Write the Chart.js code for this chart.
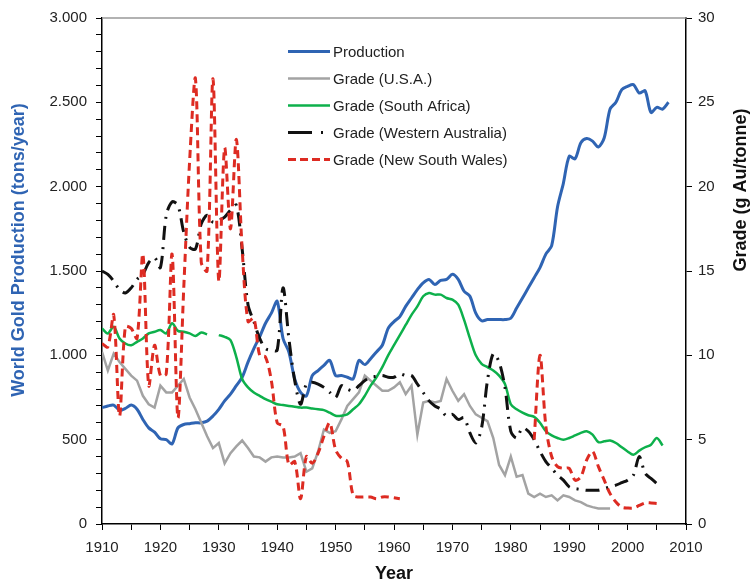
<!DOCTYPE html>
<html>
<head>
<meta charset="utf-8">
<script src="https://cdn.jsdelivr.net/npm/chart.js@4.4.0/dist/chart.umd.min.js"></script>
<style>
body { margin: 0; background: #fff; }
canvas { display: block; }
</style>
</head>
<body>
<canvas id="myChart" width="752" height="586"></canvas>
<script>
// values, one per year from the start year

var prodStart = 1910;
var production = [690, 700, 705, 675, 685, 705, 680, 620, 570, 545,
	505, 500, 475, 570, 590, 595, 600, 600, 610, 640,
	680, 730, 770, 820, 870, 960, 1040, 1110, 1190, 1250,
	1320, 1100, 1020, 860, 780, 760, 880, 910, 940, 970,
	880, 880, 870, 860, 970, 945, 980, 1020, 1060, 1160,
	1200, 1230, 1290, 1340, 1390, 1430, 1450, 1420, 1445, 1450,
	1480, 1450, 1380, 1350, 1250, 1205, 1212, 1212, 1212, 1212,
	1220, 1280, 1340, 1400, 1460, 1520, 1600, 1650, 1880, 2020,
	2180, 2165, 2260, 2285, 2270, 2235, 2290, 2460, 2500, 2575,
	2595, 2605, 2555, 2568, 2440, 2470, 2460, 2500];

var usaStart = 1910;
var gradeUSA = [10.2, 9.1, 10.1, 9.6, 9.2, 8.8, 8.5, 7.6, 7.1, 6.9,
	8.2, 7.8, 7.8, 8.2, 8.6, 7.5, 6.8, 6.0, 5.2, 4.5,
	4.8, 3.6, 4.2, 4.6, 4.95, 4.5, 4.0, 3.95, 3.7, 3.95,
	4.0, 3.95, 3.95, 4.0, 4.2, 3.1, 3.3, 4.3, 5.6, 5.4,
	5.5, 6.2, 7.0, 7.4, 7.8, 8.8, 8.5, 8.2, 7.9, 7.9,
	8.1, 8.4, 7.7, 8.2, 5.3, 7.2, 7.3, 7.2, 7.3, 8.6,
	7.9, 7.3, 7.7, 7.0, 6.5, 6.3, 6.1, 5.1, 3.5, 2.9,
	4.0, 2.8, 2.9, 1.8, 1.6, 1.8, 1.6, 1.7, 1.4, 1.7,
	1.6, 1.4, 1.3, 1.1, 1.0, 0.92, 0.92, 0.92];

var saStart = 1910;
var gradeSA = [11.6, 11.3, 11.7, 11.0, 10.7, 10.6, 10.8, 11.0, 11.3, 11.4,
	11.5, 11.3, 11.9, 11.45, 11.4, 11.3, 11.15, 11.35, 11.25, null,
	11.2, 11.1, 10.9, 9.9, 8.6, 8.1, 7.8, 7.6, 7.4, 7.25,
	7.1, 7.05, 7.0, 6.95, 6.9, 6.9, 6.85, 6.8, 6.75, 6.6,
	6.42, 6.42, 6.5, 6.8, 7.1, 7.6, 8.2, 8.7, 9.3, 10.0,
	10.6, 11.2, 11.8, 12.4, 12.9, 13.5, 13.7, 13.6, 13.6, 13.4,
	13.3, 13.0, 12.1, 11.0, 10.0, 9.5, 9.3, 9.1, 8.8, 8.3,
	7.1, 6.8, 6.6, 6.45, 6.35, 6.0, 5.5, 5.25, 5.1, 5.0,
	5.1, 5.25, 5.4, 5.5, 5.3, 4.85, 4.9, 4.95, 4.8, 4.55,
	4.3, 4.1, 4.35, 4.55, 4.7, 5.1, 4.65];

var waStart = 1910;
var gradeWA = [15.0, 14.8, 14.4, 13.9, 13.7, 14.0, 14.5, 14.8, 15.5, 15.8,
	15.2, 18.3, 19.1, 18.9, 17.3, 16.4, 16.3, 17.8, 18.3, 17.9,
	18.0, 18.2, 18.6, 18.9, 16.3, 13.0, 12.0, 11.0, 10.4, 10.3,
	10.3, 14.0, 11.0, 8.5, 7.1, 8.3, 8.4, 8.3, 8.1, 7.8,
	7.5, 8.2, 8.0, 7.9, 8.2, 8.5, 8.7, 8.75, 8.8, 8.7,
	8.7, 8.9, 8.8, 8.8, 8.3, 7.8, 7.3, 7.0, 6.8, 6.4,
	6.5, 6.2, 6.3, 5.4, 4.8, 5.7, 8.5, 10.1, 9.6, 8.1,
	5.5, 5.1, 5.7, 5.5, 5.0, 4.3, 3.7, 3.3, 2.9, 2.6,
	2.2, 2.1, 2.05, 2.0, 2.0, 2.0, 2.1, 2.2, 2.3, 2.45,
	2.6, 2.9, 4.0, 3.0, 2.7, 2.4];

var nswStartA = 1910;
var gradeNSWa = [10.7, 10.5, 12.4, 6.4, 11.7, 11.6, 11.0, 16.0, 8.2, 10.6,
	8.8, 8.9, 16.0, 6.3, 14.0, 21.5, 26.4, 15.5, 15.0, 26.4,
	14.4, 22.3, 17.5, 22.8, 16.3, 12.0, 12.2, 10.0, 9.9, 8.5,
	6.0, 5.8, 3.5, 3.7, 1.5, 4.0, 3.6, 4.2, 5.2, 6.0,
	4.4, 3.9, 3.7, 1.7, 1.6, 1.6, 1.6, 1.5, 1.6, 1.6,
	1.55, 1.5];
var nswStartB = 1984;
var gradeNSWb = [5.0, 10.0, 5.8, 4.0, 3.4, 3.3, 3.3, 2.6, 2.8, 3.8,
	4.3, 3.4, 2.6, 1.8, 1.3, 1.0, 0.95, 0.95, 1.1, 1.25,
	1.25, 1.22];

var xTickLabels = ['1910', '1920', '1930', '1940', '1950', '1960', '1970', '1980', '1990', '2000', '2010'];

function toPoints(start, values) {
	return values.map(function (v, i) {
		return { x: start + i, y: v };
	});
}

var nswPoints = toPoints(nswStartA, gradeNSWa)
	.concat([{ x: 1970, y: null }])
	.concat(toPoints(nswStartB, gradeNSWb));

var FONT = '"Liberation Sans", Arial, Helvetica, sans-serif';
var BLUE = '#2f64b3';

// legend drawn inside the plot, like the original
var insideLegend = {
	id: 'insideLegend',
	afterDraw: function (chart) {
		var ctx = chart.ctx;
		var rowY = 51.5;
		ctx.save();
		ctx.font = '15px ' + FONT;
		ctx.textBaseline = 'middle';
		chart.data.datasets.forEach(function (ds) {
			ctx.beginPath();
			ctx.strokeStyle = ds.borderColor;
			ctx.lineWidth = ds.borderWidth;
			ctx.setLineDash(ds.legendDash || []);
			ctx.moveTo(288, rowY);
			ctx.lineTo(330, rowY);
			ctx.stroke();
			ctx.setLineDash([]);
			ctx.fillStyle = '#222';
			ctx.fillText(ds.label, 333, rowY + 1);
			rowY += 27;
		});
		ctx.restore();
	}
};

// axis titles and top frame line
var frameAndTitles = {
	id: 'frameAndTitles',
	afterDraw: function (chart) {
		var ctx = chart.ctx;
		var a = chart.chartArea;
		ctx.save();
		ctx.strokeStyle = '#999';
		ctx.lineWidth = 1.5;
		ctx.beginPath();
		ctx.moveTo(a.left, a.top);
		ctx.lineTo(a.right, a.top);
		ctx.stroke();

		ctx.font = 'bold 18px ' + FONT;
		ctx.textAlign = 'center';
		ctx.textBaseline = 'middle';

		ctx.fillStyle = BLUE;
		ctx.save();
		ctx.translate(19, 250);
		ctx.rotate(-Math.PI / 2);
		ctx.fillText('World Gold Production (tons/year)', 0, 0);
		ctx.restore();

		ctx.fillStyle = '#111';
		ctx.save();
		ctx.translate(741, 190);
		ctx.rotate(-Math.PI / 2);
		ctx.fillText('Grade (g Au/tonne)', 0, 0);
		ctx.restore();

		ctx.fillText('Year', (a.left + a.right) / 2, 574);
		ctx.restore();
	}
};

var ctx = document.getElementById('myChart').getContext('2d');
var chart = new Chart(ctx, {
	type: 'line',
	data: {
		datasets: [{
			label: 'Production',
			data: toPoints(prodStart, production),
			yAxisID: 'y',
			borderColor: BLUE,
			borderWidth: 3,
			tension: 0.3,
			order: 5
		},
		{
			label: 'Grade (U.S.A.)',
			data: toPoints(usaStart, gradeUSA),
			yAxisID: 'y1',
			borderColor: '#a3a3a3',
			borderWidth: 2.5,
			tension: 0,
			order: 4
		},
		{
			label: 'Grade (South Africa)',
			data: toPoints(saStart, gradeSA),
			yAxisID: 'y1',
			borderColor: '#0db04b',
			borderWidth: 2.5,
			tension: 0.3,
			order: 3
		},
		{
			label: 'Grade (Western Australia)',
			data: toPoints(waStart, gradeWA),
			yAxisID: 'y1',
			borderColor: '#111',
			borderWidth: 3,
			borderDash: [14, 7, 2, 7],
			legendDash: [24, 9, 2, 30],
			tension: 0.3,
			order: 2
		},
		{
			label: 'Grade (New South Wales)',
			data: nswPoints,
			yAxisID: 'y1',
			borderColor: '#dd2b22',
			borderWidth: 3,
			borderDash: [8, 5],
			legendDash: [8, 4],
			tension: 0.3,
			order: 1
		}]
	},
	options: {
		responsive: false,
		animation: false,
		spanGaps: false,
		elements: { point: { radius: 0 } },
		layout: { padding: { top: 15, left: 0, right: 0, bottom: 0 } },
		plugins: {
			legend: { display: false },
			tooltip: { enabled: false }
		},
		scales: {
			x: {
				type: 'linear',
				min: 1910,
				max: 2010,
				afterFit: function (s) { s.height = 62; },
				border: { color: '#000', width: 1.5 },
				grid: { drawOnChartArea: false, tickLength: 6, color: '#000' },
				ticks: {
					stepSize: 5,
					autoSkip: false,
					maxRotation: 0,
					padding: 9,
					color: '#222',
					font: { family: FONT, size: 15 },
					callback: function (v) {
						var s = String(v);
						return xTickLabels.indexOf(s) >= 0 ? s : '';
					}
				}
			},
			y: {
				position: 'left',
				min: 0,
				max: 3000,
				afterFit: function (s) { s.width = 102; },
				border: { color: '#000', width: 1.5 },
				grid: { drawOnChartArea: false, tickLength: 6, color: '#000' },
				ticks: {
					stepSize: 100,
					autoSkip: false,
					padding: 9,
					color: '#222',
					font: { family: FONT, size: 15 },
					callback: function (v) {
						if (v % 500 !== 0) return '';
						return v >= 1000 ? Math.floor(v / 1000) + '.' + String(v % 1000).padStart(3, '0') : String(v);
					}
				}
			},
			y1: {
				position: 'right',
				min: 0,
				max: 30,
				afterFit: function (s) { s.width = 66; },
				border: { color: '#000', width: 1.5 },
				grid: { drawOnChartArea: false, tickLength: 6, color: '#000' },
				ticks: {
					stepSize: 5,
					autoSkip: false,
					padding: 6,
					color: '#222',
					font: { family: FONT, size: 15 }
				}
			}
		}
	},
	plugins: [insideLegend, frameAndTitles]
});
</script>
</body>
</html>
